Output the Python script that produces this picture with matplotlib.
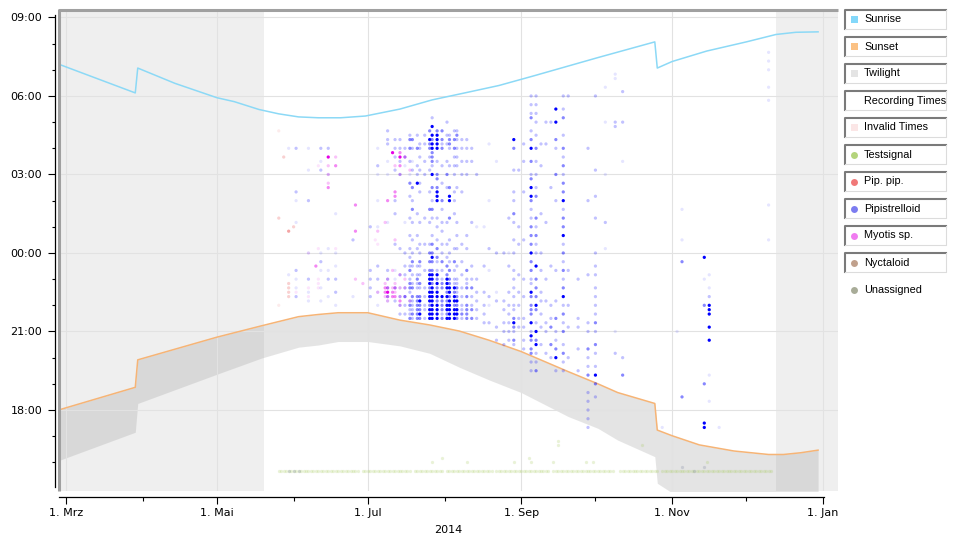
import datetime as dt

import matplotlib
matplotlib.use("Agg")
import matplotlib.pyplot as plt
import matplotlib.dates as mdates
from matplotlib.patches import Rectangle


# ---------- data -------------------------------------------------------------

# sun curves: night date, clock time
SUNRISE_DATES = ["02-26", "03-29", "03-30", "04-14", "05-01", "05-08", "05-18", "05-26",
                 "06-03", "06-11", "06-20", "06-30", "07-14", "07-27", "08-10", "08-23",
                 "09-06", "09-19", "10-02", "10-25", "10-26", "11-01", "11-15", "12-01",
                 "12-13", "12-21", "12-30"]
SUNRISE_TIMES = ["07:13", "06:07", "07:04", "06:29", "05:56", "05:47", "05:29", "05:19",
                 "05:12", "05:10", "05:10", "05:14", "05:30", "05:51", "06:08", "06:24",
                 "06:46", "07:07", "07:28", "08:04", "07:04", "07:19", "07:43", "08:04",
                 "08:21", "08:26", "08:27"]

SUNSET_DATES = ["02-26", "03-29", "03-30", "05-01", "05-19", "06-03", "06-11", "06-19",
                "07-01", "07-14", "07-26", "08-07", "08-19", "09-01", "09-20", "10-02",
                "10-10", "10-25", "10-26", "11-01", "11-12", "11-26", "12-10", "12-16",
                "12-23", "12-30"]
SUNSET_TIMES = ["18:00", "18:52", "19:55", "20:47", "21:13", "21:34", "21:39", "21:43",
                "21:43", "21:26", "21:15", "21:01", "20:40", "20:14", "19:28", "19:00",
                "18:40", "18:15", "17:14", "17:01", "16:40", "16:26", "16:18", "16:18",
                "16:22", "16:28"]
TWILIGHT_TIMES = ["16:04", "17:09", "18:15", "19:22", "19:59", "20:24", "20:29", "20:37",
                  "20:37", "20:27", "20:10", "19:38", "19:09", "18:40", "17:45", "17:18",
                  "16:51", "16:13", "15:12", "14:50", "14:35", "14:20", "14:12", "14:12",
                  "14:16", "14:22"]

# periods without recordings
NO_RECORDING = [("02-20", "05-20"), ("12-13", "01-10")]

# detections per night in 10-minute bins, one hour block per group,
# blocks start at 17:00, 18:00, ... 07:00; digit = shade (1 faint .. 4 dark)
PIPISTRELLOID = {
    "05-30": "...... ...... ...... ...... ...... ...... .1.... ...... ...... ...... ...... 1..... ...... ......",
    "06-02": "...... ...... ...... ...... ...... ..2.1. 1.2... ...... .1.... 1.2... ...... 2..... ...... ......",
    "06-07": "...... ...... ...... ...... ...... .1.1.. 2..... 1..... ...... 2..... .1.... 1..... ...... ......",
    "06-12": "...... ...... ...... ...... ...... .1..1. ..1.2. 1..... ...... ...... .2.1.. 2..... ...... ......",
    "06-15": "...... ...... ...... ...... ...... ..1... 2.1... .1.... ...... ...... 1..... 2..... ...... ......",
    "06-18": "...... ...... ...... ...... ...... 1..2.. 2..1.. 1..... ...1.. ...... ...... ...... ...... ......",
    "06-25": "...... ...... ...... ...... ...... ..1... ...... ...2.. ...... ...... ...... ...... ...... ......",
    "07-02": "...... ...... ...... ...... ...... ..2.2. 2.2... ...... 2..... ...... ...... ...... ...... ......",
    "07-05": "...... ...... ...... ...... ...... 1..1.. 2..2.. ...... 1..... 1..... 1.2... 1..... ...... ......",
    "07-09": "...... ...... ...... ...... ...... .12.2. 2.2... ...... .1.... ...... 1..1.. .22.2. ...... ......",
    "07-12": "...... ...... ...... ...... ...... .2..2. 1.1... ..2... ...2.. 2..... .2..2. 2.2... ...... ......",
    "07-14": "...... ...... ...... ...... ....2. 2.2.1. .2.... .2.... ...... ...... 2..2.. 2.2... ...... ......",
    "07-16": "...... ...... ...... ...... ....2. 2.3.2. .2.2.. 2..... .1.... ...... ..1.2. 2..... ...... ......",
    "07-18": "...... ...... ...... ...... ...322 32.233 2.32.2 .2..2. ..2... .2..3. 1..2.. 3.32.. ...... ......",
    "07-19": "...... ...... ...... ...... ...232 223.32 .2.23. 2..2.. .2..3. 2..3.. .2.1.. 2.3... ...... ......",
    "07-21": "...... ...... ...... ...... ...333 333.22 32.2.. .2..2. ...2.. ....4. 2.2... 3..2.. ...... ......",
    "07-22": "...... ...... ...... ...... ...343 343.23 .2.23. 2.2... .2.... ..2.2. .2..2. 22.... ...... ......",
    "07-24": "...... ...... ...... ...... ...2.2 2.2.2. ..2... ..2... ..2... ...... 2..2.. .2.2.. ...... ......",
    "07-26": "...... ...... ...... ...... ...444 344434 443.3. 3.2... .2..3. ..2... .2..2. 334.3. ...... ......",
    "07-27": "...... ...... ...... ...... ...444 444443 443.34 3.3.2. ..2.3. 2..3.. 4.2333 4434.4 .2.... ......",
    "07-29": "...... ...... ...... ...... ...444 434434 342.23 .3.2.. 2.2... 4443.3 3..2.. 44443. ...... ......",
    "07-31": "...... ...... ...... ...... ...323 334.33 2.2.3. 2.2..2 .2..2. 3...2. ..2... 323.3. ...... ......",
    "08-02": "...... ...... ...... ...... ...434 434344 43.3.2 ..2... .2.... ...2.. 3..2.. .2.2.. 2..... ......",
    "08-03": "...... ...... ...... ...... ...444 443443 3.3.2. 2..2.. ..3... 44.3.. ..2... 2332.. ...... ......",
    "08-05": "...... ...... ...... ...... ...444 344342 2.2.3. .2.... ...2.. 2.2... 2.2.2. 3.3.2. ...... ......",
    "08-06": "...... ...... ...... ...... ...344 343232 2..2.. .2..2. .2.... ...2.. ..2.2. 2.232. ...... ......",
    "08-08": "...... ...... ...... ...... ...232 2.2.2. .2..2. ..2... ...... ..2... 2..2.. 2.2... ...... ......",
    "08-10": "...... ...... ...... ...... ...333 3.3.32 2.3... .2..2. ...... ...... 2..2.. 2.2... ...... ......",
    "08-12": "...... ...... ...... ...... ...3.3 2.2.3. 2..2.. ...... .2.... ...... ...2.. 2..... ...... ......",
    "08-14": "...... ...... ...... ...... ...2.2 .2.2.. 2..... ...... 1..... ...... 2..... ...... ...... ......",
    "08-17": "...... ...... ...... ...... ..2.2. 2..2.. ...2.. ...... 1..... ...... ...... ...... ...... ......",
    "08-19": "...... ...... ...... ...... ..2... 1.2... ..1... .2.... ...... 1..... ...... .1.... ...... ......",
    "08-22": "...... ...... ...... ....2. .2.... .2.1.. ...... 2..... ...... ...... ...1.. ...... ...... ......",
    "08-25": "...... ...... ...... ...2.. 2.2..2 .2.... ...... 2..... ...... ...... ...... ...... ...... ......",
    "08-27": "...... ...... ...... ....2. 2.2.2. 2..2.. ...2.. 1..... ..2... ...... ...... ...... ...... ......",
    "08-29": "...... ...... ...... ...23. 2343.2 2.2.2. 2.2... 2..2.. .2.3.. 2.2... .2.... 3.4... ......",
    "08-31": "...... ...... ...... ...... .2.2.. 2..2.. .2.... ..2... 2..... ...... .2.... ...... ...... ......",
    "09-02": "...... ...... ...... ..2.2. .2.2.. ..2... 2..... ...2.. ...... ..2... ...2.. .2.... ......",
    "09-05": "...... ...... ...2.2 .33.34 2.4.33 3.34.2 2.3.3. 4.3.3. 3.2.2. 34.4.3 2..3.. 4.3.2. .32.2. 2.....",
    "09-07": "...... ...... ...3.2 .2.43. 4.2..3 4.3.3. 3..4.. 2.2.3. 2.3... .3.2.. 2..2.. 3..2.. 2.2.2. 2.....",
    "09-09": "...... ...... ...... ...2.. .2..2. .2.2.. ..2... 2..... ...2.. ...... ..2... .2.... ......",
    "09-11": "...... ...... ...... .2.... 2.2... .2.... 2..... ...... .2.... ...... ...... .2.... 2.....",
    "09-13": "...... ...... ...... 2..3.. .3.2.. 2..... ...2.. ...... ...... ...2.. ...... ...... 2.....",
    "09-15": "...... ...... ...2.. 4.3.2. 2..3.. .2.... ..2... ...... ...... 2..... 3..... 2.3... 4..4..",
    "09-18": "...... ...... ...2.2 .3.2.. 3.2.3. 2.4.3. 2.3.2. 3.2.4. 3.3.2. 4.3.3. 2.3.2. 3..2.. .3.2.. 2.....",
    "09-20": "...... ...... ...... 2..... .2.... 2..... ..2... ...... ...... ...... ...... ...... ...... 2.....",
    "09-24": "...... ...... ...2.. ..2... .2.2.. ...... 2..... ...... ...... ...... ...... ...... ...... ......",
    "09-28": "..2.2. 2.2.2. ..3.2. 2.3... 2.2... ...... .2.... ...... ...... 2..... ...... 2..... ...... ......",
    "10-01": "...... ...2.. 3.4.2. .2.3.. 2.3.2. 2.2.2. .2.2.. 2..... ..2... .2.... .2.... ...... ...... 2.....",
    "10-05": "...... ...... ...... ...... ...... ...... ...... .1.... .2.... ...... 1..... ...... 1..... ..1...",
    "10-09": "...... ...... ...... .2.... 1..... ...... ...... ...... ...... ...... ...... .....2 2..... ....11",
    "10-12": "...... ...... ..3... 2..... ...... ...... ...... ...... ...... ...... ...1.. ...... 2..... .2....",
    "10-28": "..1... ...... ...... ...... ...... ...... ...... ...... ...... ...... ...... ...... ...... ......",
    "11-03": "...... ...... ...... ...... 1..... ...... ...... ...... ...... ...... ...... ...... ...... ......",
    "11-05": "...... ...3.. ...... ...... ...... ...... ....3. ...1.. ....1. ...... ...... ...... ...... ......",
    "11-14": "..44.. ...... 3..... ...... ...... 3..... 1....4 ...... ...... ...... ...... ...... ...... ......",
    "11-16": "...... ..1... ..1... ....4. .4..44 4.2.1. .1.... ...... ...... ...... ...... ...... ...... ......",
    "11-20": "..1... ...... ...... ...... ...... ...... ...... ...... ...... ...... ...... ...... ...... ......",
    "12-10": "...... ...... ...... ...... ...... ...... ...... ...1.. .....1 ...... ...... ...... .....1 ..1... 1.1.1.",
}

MYOTIS = {
    "06-02": "...... ...... ...... ...... ...... ...1.. ...... ...... ...... ...... ...... ...... ...... ......",
    "06-07": "...... ...... ...... ...... ...... ..1.1. ...... 1..... ...... ...... ...... ...... ...... ......",
    "06-10": "...... ...... ...... ...... ...... ...... ...3.. ...... ...... ...... ...... ...... ...... ......",
    "06-11": "...... ...... ...... ...... ...... ....11 1..... .1.... ...... ...... ..1... ...... ...... ......",
    "06-15": "...... ...... ...... ...... ...... ...... ...... ...... ...... ...32. 2.2.4. ...... ...... ......",
    "06-18": "...... ...... ...... ...... ...... ...... ...... .1.... ...... ...... ..3.2. ...... ...... ......",
    "06-26": "...... ...... ...... ...... ...... ...... 2..... .....3 .....3 ...... ...... ...... ...... ......",
    "06-29": "...... ...... ...... ...... ...... .....2 ...... ...... ...... ...... ...... ...... ...... ......",
    "07-04": "...... ...... ...... ...... ...... ...... ...... ...1.. ...... ...... ...... ...... ...... ......",
    "07-05": "...... ...... ...... ...... ...... ...2.. ...... ..1..2 ...... ...... ...... ...... ...... ......",
    "07-08": "...... ...... ...... ...... ...... ..2332 ...... ...... .2.... ...... ...... ...... ...... ......",
    "07-09": "...... ...... ...... ...... ...... .2343. 2..... ...... ...... 3..... ...... ...... ...... ......",
    "07-11": "...... ...... ...... ...... ...... ..332. ..2... ...... ...... ...... .....4 ...... ...... ......",
    "07-12": "...... ...... ...... ...... ...... ..3232 ...... ...2.. ...... .33... ..2... ...... ...... ......",
    "07-14": "...... ...... ...... ...... ...... 232.2. .2.... ...... ...... ...... 2.3.43 ...... ...... ......",
    "07-16": "...... ...... ...... ...... ...... ..2.2. 2..... ...... ...... ...... ....3. ...... ...... ......",
    "07-18": "...... ...... ...... ...... ...... .2.... ...... ...... ...... ...... .2.... ...... ...... ......",
}

PIP_PIP = {
    "05-26": "...... ...... ...... ...... ...... 1..... ...... ...... ..2... ...... ...... ....1. ...... ......",
    "05-28": "...... ...... ...... ...... ...... ...... ...... ...... ...... ...... ....2. ...... ...... ......",
    "05-30": "...... ...... ...... ...... ...... ..2222 ...... .....3 ...... ...... ...... ...... ...... ......",
    "06-01": "...... ...... ...... ...... ...... ...... ...... ...... 2..... ...... ...... ...... ...... ......",
}

# daily test signal at 15:40 (date ranges) and a few extra signals
TEST_TIME = "15:40"
TEST_RANGES = [("05-26", "06-27"), ("06-29", "07-18"), ("07-20", "07-31"), ("08-02", "08-20"),
               ("08-22", "09-12"), ("09-14", "10-08"), ("10-11", "10-26"), ("10-28", "12-11")]
TEST_EXTRA = [("07-27", "16:00"), ("07-31", "16:10"), ("08-10", "16:00"), ("08-29", "16:00"),
              ("09-04", "16:10"), ("09-05", "16:00"), ("09-14", "16:00"), ("09-16", "16:40"),
              ("09-16", "16:50"), ("09-27", "16:00"), ("09-30", "16:00"), ("10-20", "16:40"),
              ("11-15", "16:00")]
UNASSIGNED = [("05-30", "15:40"), ("06-01", "15:40"), ("06-03", "15:40"), ("11-05", "15:50"),
              ("11-14", "15:50"), ("11-10", "15:40")]

X_MAJOR = ["03-01", "05-01", "07-01", "09-01", "11-01", "01-01"]
X_LABELS = ["1. Mrz", "1. Mai", "1. Jul", "1. Sep", "1. Nov", "1. Jan"]
X_MINOR = ["04-01", "06-01", "08-01", "10-01", "12-01"]
Y_MAJOR = ["18:00", "21:00", "00:00", "03:00", "06:00", "09:00"]

LEGEND = [("Sunrise", "#84d8fa", "sq"), ("Sunset", "#fbc184", "sq"), ("Twilight", "#e4e4e4", "sq"),
          ("Recording Times", None, None), ("Invalid Times", "#fbe6e6", "sq"),
          ("Testsignal", "#b4d47c", "dot"), ("Pip. pip.", "#f07878", "dot"),
          ("Pipistrelloid", "#7c7cf0", "dot"), ("Myotis sp.", "#f07cf0", "dot"),
          ("Nyctaloid", "#c0a08c", "dot"), ("Unassigned", "#a8ac98", "dot")]


# ---------- helpers ----------------------------------------------------------

def day(md):
    m, d = map(int, md.split("-"))
    return dt.datetime(2015 if m == 1 else 2014, m, d)


def hours(t):
    """clock time -> hours after noon (so the night is continuous)"""
    hh, mm = map(int, t.split(":"))
    return (hh - 12) % 24 + mm / 60


ALPHA = {1: 0.1, 2: 0.24, 3: 0.47, 4: 1.0}
DOT = 5.5


def expand(nights, rgb):
    xs, ys, cols = [], [], []
    for md, pattern in nights.items():
        for i, c in enumerate(pattern.replace(" ", "")):
            if c != ".":
                xs.append(day(md))
                ys.append(5 + i / 6)
                cols.append((*rgb, ALPHA[int(c)]))
    return xs, ys, cols


# ---------- figure -----------------------------------------------------------

W, H = 954, 541
L, R, T, B = 59, 838, 10, 491
fig = plt.figure(figsize=(W / 100, H / 100), dpi=100)
ax = fig.add_axes([L / W, 1 - B / H, (R - L) / W, (B - T) / H])

x0 = day("03-01") - dt.timedelta(days=2.83)
x1 = day("03-01") + dt.timedelta(days=312.05)
ax.set_xlim(x0, x1)
ax.set_ylim(2.905, 21.285)

for a, b in NO_RECORDING:
    ax.axvspan(day(a), day(b), color="#efefef", lw=0, zorder=0.2)

sd = [day(d) for d in SUNSET_DATES]
ax.fill_between(sd, [hours(t) for t in TWILIGHT_TIMES], [hours(t) for t in SUNSET_TIMES],
                color="#979797", alpha=0.25, lw=0, zorder=0.3)
ax.plot(sd, [hours(t) for t in SUNSET_TIMES], color="#f6b476", lw=1.1, zorder=2)
ax.plot([day(d) for d in SUNRISE_DATES], [hours(t) for t in SUNRISE_TIMES],
        color="#8cd9f6", lw=1.1, zorder=2)

# test signal
tx, ty = [], []
for a, b in TEST_RANGES:
    d = day(a)
    while d <= day(b):
        tx.append(d)
        ty.append(hours(TEST_TIME))
        d += dt.timedelta(days=1)
for md, t in TEST_EXTRA:
    tx.append(day(md))
    ty.append(hours(t))
ax.scatter(tx, ty, s=DOT, color="#a8cc60", alpha=0.25, lw=0, zorder=3)
ax.scatter([day(d) for d, _ in UNASSIGNED], [hours(t) for _, t in UNASSIGNED],
           s=DOT, color="#8890a8", alpha=0.3, lw=0, zorder=3)

for nights, rgb in [(PIP_PIP, (0.91, 0.25, 0.25)), (MYOTIS, (0.9, 0.0, 0.9)),
                    (PIPISTRELLOID, (0.0, 0.0, 1.0))]:
    xs, ys, cols = expand(nights, rgb)
    ax.scatter(xs, ys, s=DOT, c=cols, lw=0, zorder=3)

# axes styling
ax.set_xticks([day(d) for d in X_MAJOR])
ax.set_xticklabels(X_LABELS)
ax.set_xticks([day(d) for d in X_MINOR], minor=True)
ax.set_yticks([hours(t) for t in Y_MAJOR])
ax.set_yticklabels(Y_MAJOR)
ax.set_yticks([h for h in range(4, 21) if h % 3], minor=True)
ax.set_axisbelow(True)
ax.grid(True, which="major", color="#e2e2e2", lw=0.8)

ax.tick_params(which="major", length=5, width=0.8, labelsize=8, colors="black")
ax.tick_params(axis="y", which="major", pad=4)
ax.tick_params(axis="x", which="major", pad=3)
ax.tick_params(which="minor", length=2.5, width=0.8)
ax.tick_params(axis="x", which="minor", length=3)

for s in ("top", "right"):
    ax.spines[s].set_visible(False)
ax.spines["left"].set_position(("outward", 3))
ax.spines["left"].set_bounds(3.06, 21.09)
ax.spines["bottom"].set_position(("outward", 4.3))
ax.spines["bottom"].set_bounds(mdates.date2num(x0), mdates.date2num(day("01-01")) + 0.3)
for s in ("left", "bottom"):
    ax.spines[s].set_linewidth(0.9)
ax.set_xlabel("2014", fontsize=8, labelpad=5)

# grey chart frame (top and left)
ax.plot([0, 0, 1], [0, 1, 1], transform=ax.transAxes, color="#a0a0a0", lw=2.2,
        clip_on=False, zorder=5, solid_capstyle="butt")

# ---------- legend boxes -----------------------------------------------------
lax = fig.add_axes([0, 0, 1, 1])
lax.set_xlim(0, W)
lax.set_ylim(H, 0)
lax.axis("off")

for k, (label, color, kind) in enumerate(LEGEND):
    top = 10 + 27 * k
    cy = top + 9.5
    if label != "Unassigned":
        lax.add_patch(Rectangle((845, top), 101, 19, facecolor="white", lw=0))
        lax.plot([845, 845, 946], [top + 19, top, top], color="#7a7a7a", lw=1.5)
        lax.plot([946, 946, 845], [top, top + 19, top + 19], color="#dcdcdc", lw=0.8)
    else:
        cy = 290
    if kind == "sq":
        lax.add_patch(Rectangle((851, cy - 3.5), 7, 7, facecolor=color, lw=0))
    elif kind == "dot":
        lax.plot([854.5], [cy], "o", ms=5, color=color, mec="none")
    lax.text(864, cy, label, fontsize=7.8, family="Liberation Sans",
             va="center", ha="left", color="black")

fig.savefig("out.png", dpi=100)
